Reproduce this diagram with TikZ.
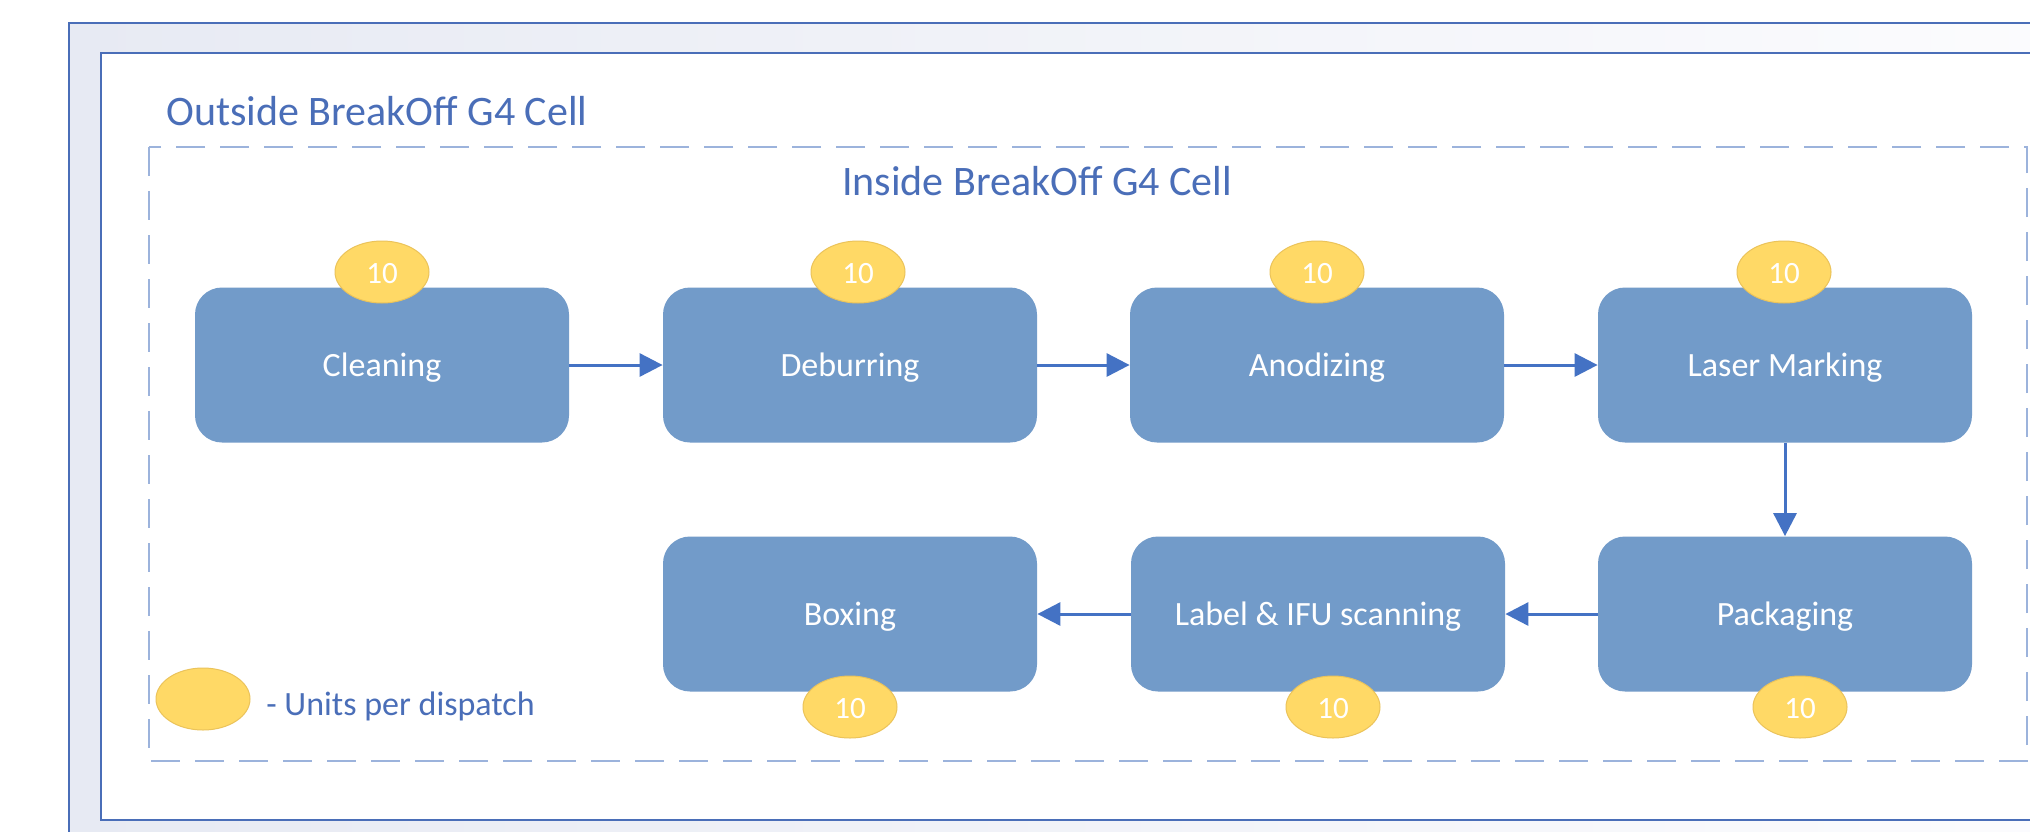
\documentclass[tikz,border=0pt]{standalone}
\usepackage{fontspec}
\setmainfont{Carlito}
\usetikzlibrary{shapes.geometric,arrows.meta}
\definecolor{frameblue}{HTML}{4A6EB8}
\definecolor{textblue}{HTML}{4A6EB8}
\definecolor{stepfill}{HTML}{729BC9}
\definecolor{badgefill}{HTML}{FFD966}
\definecolor{badgeline}{HTML}{EBC35A}
\definecolor{dashblue}{HTML}{9CB3DC}
\definecolor{arrowblue}{HTML}{4472C4}
\definecolor{bandleft}{HTML}{E7EAF3}
\definecolor{bandright}{HTML}{FCFCFE}

\begin{document}
\begin{tikzpicture}[x=0.5pt,y=-0.5pt,
  stepbox/.style={rounded corners=13.5pt, fill=stepfill, minimum width=187pt,
    minimum height=77.5pt, inner sep=0pt, text=white, text height=11pt, text depth=0pt,
    font=\fontsize{17}{20}\selectfont},
  badge/.style={ellipse, fill=badgefill, draw=badgeline, line width=0.5pt,
    minimum width=47pt, minimum height=31pt, inner sep=0pt, text=white,
    text height=11pt, text depth=0pt, font=\fontsize{15.5}{18}\selectfont},
  flow/.style={draw=arrowblue, line width=1.5pt, -{Triangle[length=11.5pt,width=11.5pt]}},
  heading/.style={text=textblue, inner sep=0pt, anchor=base west,
    font=\fontsize{21}{25}\selectfont}
]
% canvas and frames
\useasboundingbox (0,0) rectangle (2030,831);
\fill[white] (0,0) rectangle (2030,831);
\begin{scope}
  \clip (0,0) rectangle (2030,831);
  \shade[left color=bandleft, right color=bandright] (69,23) rectangle (2100,900);
  \fill[white] (101,53) rectangle (2100,820);
  \draw[frameblue, line width=1.25pt] (69,23) rectangle (2100,900);
  \draw[frameblue, line width=1.25pt] (101,53) rectangle (2100,820);
  \draw[dashblue, line width=1pt, dash pattern=on 14.5pt off 7.5pt] (149,147) rectangle (2027,761);
\end{scope}

% headings
\node[heading] (outside) at (166,125) {Outside BreakOff G4 Cell};
\node[heading, anchor=base] (inside) at (1037,195) {Inside BreakOff G4 Cell};

% process steps
\node[stepbox] (clean)  at (382,365)  {Cleaning};
\node[stepbox] (deburr) at (850,365)  {Deburring};
\node[stepbox] (anod)   at (1317,365) {Anodizing};
\node[stepbox] (laser)  at (1785,365) {Laser Marking};
\node[stepbox] (boxing) at (850,614)  {Boxing};
\node[stepbox] (label)  at (1318,614) {Label \& IFU scanning};
\node[stepbox] (pack)   at (1785,614) {Packaging};

% units per dispatch
\node[badge] (bclean)  at (382,272)  {10};
\node[badge] (bdeburr) at (858,272)  {10};
\node[badge] (banod)   at (1317,272) {10};
\node[badge] (blaser)  at (1784,272) {10};
\node[badge] (bboxing) at (850,707)  {10};
\node[badge] (blabel)  at (1333,707) {10};
\node[badge] (bpack)   at (1800,707) {10};

% flow
\draw[flow] (clean.east) -- (deburr.west);
\draw[flow] (deburr.east) -- (anod.west);
\draw[flow] (anod.east) -- (laser.west);
\draw[flow] (laser.south) -- (pack.north);
\draw[flow] (pack.west) -- (label.east);
\draw[flow] (label.west) -- (boxing.east);

% legend
\node[badge] (key) at (203,699) {};
\node[heading, font=\fontsize{17}{20}\selectfont] (keytext) at (266,715) {- Units per dispatch};
\end{tikzpicture}
\end{document}
